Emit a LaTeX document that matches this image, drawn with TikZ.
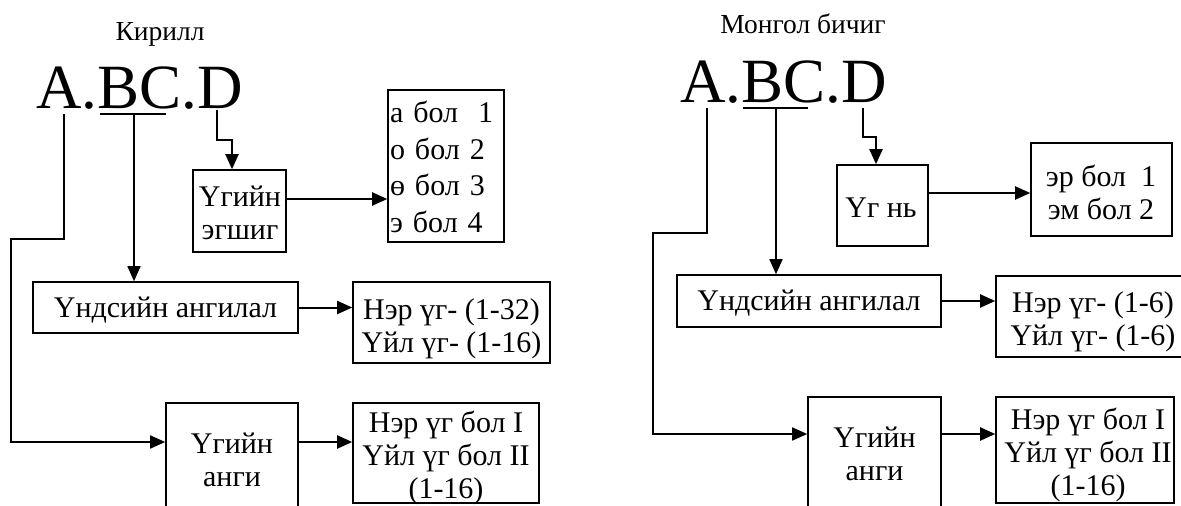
\documentclass[tikz,border=0pt]{standalone}
\usepackage{fontspec}
\setmainfont{Liberation Serif}
\usetikzlibrary{arrows.meta}
\begin{document}
\begin{tikzpicture}[x=1pt,y=-1pt,
  box/.style={draw, line width=1.6pt, rectangle, inner sep=0pt},
  txt/.style={inner sep=0pt, align=center, font=\fontsize{30}{33}\selectfont},
  link/.style={line width=1.7pt},
  tip/.style={-{Triangle[length=15pt,width=13pt]}},
  arr/.style={line width=2pt, tip},
  title/.style={font=\fontsize{27.5}{30}\selectfont, inner sep=0pt, anchor=base},
  code/.style={font=\fontsize{63}{70}\selectfont, inner sep=0pt, anchor=base},
]
\useasboundingbox (0,0) rectangle (1181,506);
\clip (0,0) rectangle (1181,506);

% ---------------- Cyrillic ----------------
\node[title] (tL) at (160,40) {Кирилл};
\node[code] (codeL) at (139.5,108) {A.BC.D};
\coordinate (aL) at (64,114);
\coordinate (bcL) at (134,114);
\coordinate (dL) at (217,110);
\draw[link] (100,114) -- (166,114);

\node[box, minimum width=93pt, minimum height=82pt] (egL) at (239.5,211) {};
\node[txt] (egLt) at (240,213) {Үгийн\\эгшиг};
\node[box, minimum width=116pt, minimum height=152pt] (vowL) at (446,166) {};
\node[txt, align=left, text width=112pt, font=\fontsize{30}{36.7}\selectfont] (vowLt) at (446,167)
  {а бол\ \ 1\\о бол 2\\ө бол 3\\э бол 4};
\node[box, minimum width=265pt, minimum height=51pt] (undL) at (165.5,307.5) {};
\node[txt] (undLt) at (165.5,310) {Үндсийн ангилал};
\node[box, minimum width=197pt, minimum height=81pt] (nounL) at (451.5,322.5) {};
\node[txt] (nounLt) at (451.5,328.5) {Нэр үг- (1-32)\\Үйл үг- (1-16)};
\node[box, minimum width=132pt, minimum height=116pt] (angL) at (232,461) {};
\node[txt] (angLt) at (232,460) {Үгийн\\анги};
\node[box, minimum width=186pt, minimum height=100pt] (clsL) at (446,453) {};
\node[txt] (clsLt) at (446,457.5) {Нэр үг бол I\\Үйл үг бол II\\(1-16)};

\draw[arr] (dL) -- ++(0,30) -| ([xshift=-7.5pt]egL.north);
\draw[arr] ([yshift=12pt]egL.east) -- ([yshift=12pt]egL.east -| vowL.west);
\draw[link, tip] (bcL) -- (bcL |- undL.north);
\draw[arr] (undL.east) -- (undL.east -| nounL.west);
\draw[link, tip] (aL) -- ++(0,125) -- ++(-53,0) |- ([yshift=19pt]angL.west);
\draw[arr] ([yshift=19pt]angL.east) -- ([yshift=19pt]angL.east -| clsL.west);

% ---------------- Mongolian script ----------------
\node[title] (tR) at (803,33) {Монгол бичиг};
\node[code] (codeR) at (783.5,102) {A.BC.D};
\coordinate (aR) at (707,108);
\coordinate (bcR) at (776,108);
\coordinate (dR) at (863,108);
\draw[link] (743,108) -- (808,108);

\node[box, minimum width=91pt, minimum height=81pt] (ugR) at (882.5,205.5) {};
\node[txt] (ugRt) at (881,208) {Үг нь};
\node[box, minimum width=141pt, minimum height=93pt] (erR) at (1101.5,189.5) {};
\node[txt] (erRt) at (1101,192) {эр бол\ \ 1\\эм бол 2};
\node[box, minimum width=264pt, minimum height=52pt] (undR) at (809,301) {};
\node[txt] (undRt) at (809,303) {Үндсийн ангилал};
\node[box, minimum width=194pt, minimum height=81pt] (nounR) at (1093,316.5) {};
\node[txt] (nounRt) at (1093,321.5) {Нэр үг- (1-6)\\Үйл үг- (1-6)};
\node[box, minimum width=133pt, minimum height=116pt] (angR) at (874.5,455) {};
\node[txt] (angRt) at (874.5,454) {Үгийн\\анги};
\node[box, minimum width=178pt, minimum height=106pt] (clsR) at (1085,450) {};
\node[txt] (clsRt) at (1088,454.5) {Нэр үг бол I\\Үйл үг бол II\\(1-16)};

\draw[arr] (dR) -- ++(0,29) -| ([xshift=-6.5pt]ugR.north);
\draw[arr] ([yshift=12.5pt]ugR.east) -- ([yshift=12.5pt]ugR.east -| erR.west);
\draw[link, tip] (bcR) -- (bcR |- undR.north);
\draw[arr] (undR.east) -- (undR.east -| nounR.west);
\draw[link, tip] (aR) -- ++(0,125) -- ++(-54,0) |- ([yshift=21pt]angR.west);
\draw[arr] ([yshift=21pt]angR.east) -- ([yshift=21pt]angR.east -| clsR.west);
\end{tikzpicture}
\end{document}
